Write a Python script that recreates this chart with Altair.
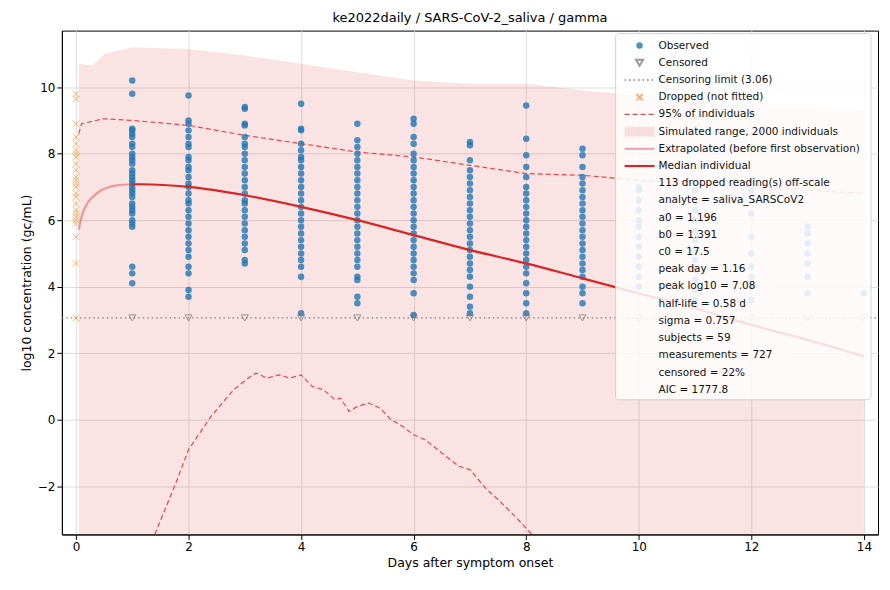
import altair as alt
import pandas as pd

obs = {
 1: [10.2, 9.8, 8.75, 8.7, 8.6, 8.5, 8.3, 8.2, 8.0, 7.9, 7.8, 7.7, 7.5, 7.4, 7.3, 7.2, 7.1, 7.0, 6.9, 6.8, 6.7, 6.5, 6.4, 6.3, 6.2, 6.0, 5.9, 5.8, 4.6, 4.4, 4.1],
 2: [9.75, 9.0, 8.9, 8.7, 8.5, 8.3, 8.2, 7.9, 7.8, 7.6, 7.5, 7.3, 7.1, 7.0, 6.8, 6.6, 6.5, 6.3, 6.1, 5.9, 5.7, 5.5, 5.3, 5.1, 4.9, 4.6, 4.4, 3.9, 3.7],
 3: [9.4, 9.35, 8.9, 8.85, 8.5, 8.3, 8.2, 8.0, 7.8, 7.6, 7.4, 7.2, 7.0, 6.8, 6.6, 6.5, 6.3, 6.1, 5.9, 5.7, 5.5, 5.3, 5.1, 4.8, 4.7],
 4: [9.5, 8.75, 8.7, 8.3, 8.1, 7.9, 7.8, 7.6, 7.4, 7.2, 7.0, 6.8, 6.6, 6.4, 6.2, 6.0, 5.8, 5.6, 5.4, 5.2, 5.0, 4.8, 4.6, 4.3, 3.2],
 5: [8.9, 8.4, 8.2, 8.0, 7.8, 7.6, 7.4, 7.2, 7.0, 6.8, 6.6, 6.4, 6.2, 6.0, 5.8, 5.6, 5.4, 5.2, 5.0, 4.8, 4.6, 4.3, 4.2, 3.7, 3.5],
 6: [9.05, 8.9, 8.5, 8.3, 8.0, 7.8, 7.6, 7.4, 7.2, 7.0, 6.8, 6.6, 6.4, 6.2, 6.0, 5.8, 5.6, 5.4, 5.2, 5.0, 4.8, 4.6, 4.4, 4.2, 3.8, 3.15],
 7: [8.35, 8.25, 7.8, 7.5, 7.3, 7.1, 6.9, 6.7, 6.5, 6.3, 6.1, 5.9, 5.7, 5.5, 5.3, 5.1, 4.9, 4.7, 4.5, 4.3, 4.0, 3.7, 3.4, 3.2],
 8: [9.45, 8.45, 7.95, 7.6, 7.3, 7.0, 6.8, 6.6, 6.4, 6.2, 6.0, 5.8, 5.6, 5.4, 5.2, 5.0, 4.8, 4.6, 4.4, 4.1, 3.8, 3.5, 3.2],
 9: [8.15, 7.95, 7.6, 7.3, 7.1, 6.9, 6.7, 6.5, 6.3, 6.1, 5.9, 5.7, 5.5, 5.3, 5.1, 4.9, 4.7, 4.5, 4.3, 4.0, 3.8, 3.5],
 10: [7.0, 6.9, 6.6, 6.3, 6.0, 5.8, 5.5, 5.2, 4.9, 4.6, 4.3, 4.0],
 11: [6.9, 6.3, 6.0, 5.7, 5.4, 5.1, 4.8, 4.5, 4.2, 3.9, 3.6],
 12: [9.2, 7.2, 6.9, 6.2, 5.5, 5.0, 4.6, 4.3, 4.0, 3.6],
 13: [5.8, 5.6, 5.3, 5.0, 4.7, 4.3, 3.8],
 14: [3.8],
}
censored_days = list(range(1, 15))
censor_limit = 3.06
dropped_vals = [9.8, 9.65, 8.9, 8.5, 8.3, 8.1, 8.0, 7.9, 7.7, 7.5, 7.3, 7.2, 7.1, 7.0, 6.8, 6.7, 6.5, 6.3, 6.2, 6.1, 6.0, 5.9, 5.5, 4.7, 3.06]

band_days = [0.05, 0.3, 0.5, 1.0, 2.0, 3.0, 4.0, 5.0, 6.0, 7.0, 8.0, 9.0, 10.0, 11.0, 12.0, 13.0, 14.0]
band_upper = [10.7, 10.65, 11.0, 11.2, 11.15, 10.95, 10.7, 10.45, 10.2, 10.1, 10.1, 9.9, 9.75, 9.6, 9.5, 9.4, 9.3]
y_bottom = -3.45

p95_days = [0.05, 0.1, 0.5, 1, 2, 3, 4, 5, 6, 7, 8, 9, 10, 11, 12, 13, 14]
p95_upper = [8.6, 8.9, 9.05, 9.0, 8.85, 8.55, 8.3, 8.05, 7.9, 7.65, 7.4, 7.35, 7.2, 7.1, 7.0, 6.9, 6.8]
p5_days = [1.4, 1.8, 2.0, 2.4, 2.8, 3.1, 3.2, 3.4, 3.6, 3.8, 4.0, 4.2, 4.4, 4.6, 4.7, 4.85, 5.0, 5.2, 5.4, 5.6, 5.8, 6.0, 6.2, 6.5, 6.8, 7.0, 7.3, 7.5, 7.8, 8.1]
p5_lower = [-3.45, -1.8, -0.9, 0.1, 0.9, 1.3, 1.4, 1.25, 1.35, 1.25, 1.35, 1.0, 0.9, 0.6, 0.65, 0.25, 0.4, 0.5, 0.35, 0.0, -0.2, -0.45, -0.6, -1.0, -1.4, -1.5, -2.1, -2.4, -2.9, -3.45]

ext_days = [0.05, 0.1, 0.2, 0.3, 0.45, 0.6, 0.8, 1.0]
ext_vals = [5.7, 6.1, 6.5, 6.7, 6.9, 7.0, 7.06, 7.08]
med_days = [1.0, 1.16, 2, 3, 4, 5, 6, 7, 8, 9, 10, 11, 12, 13, 14]
med_vals = [7.08, 7.08, 7.0, 6.75, 6.4, 6.0, 5.55, 5.1, 4.7, 4.25, 3.8, 3.35, 2.85, 2.4, 1.9]

legend_lines = ["Observed", "Censored", "Censoring limit (3.06)", "Dropped (not fitted)",
    "95% of individuals", "Simulated range, 2000 individuals",
    "Extrapolated (before first observation)", "Median individual",
    "113 dropped reading(s) off-scale", "analyte = saliva_SARSCoV2",
    "a0 = 1.196", "b0 = 1.391", "c0 = 17.5", "peak day = 1.16", "peak log10 = 7.08",
    "half-life = 0.58 d", "sigma = 0.757", "subjects = 59", "measurements = 727",
    "censored = 22%", "AIC = 1777.8"]

RED = "#d62728"
X = alt.X("x:Q", scale=alt.Scale(domain=[-0.25, 14.25], nice=False, zero=False),
          axis=alt.Axis(values=list(range(0, 15, 2)), title="Days after symptom onset"))
Y = alt.Y("y:Q", scale=alt.Scale(domain=[y_bottom, 11.7], nice=False, zero=False),
          axis=alt.Axis(values=[-2, 0, 2, 4, 6, 8, 10], title="log10 concentration (gc/mL)"))

obs_df = pd.DataFrame([{"x": d, "y": v} for d, vs in obs.items() for v in vs])
cen_df = pd.DataFrame({"x": censored_days, "y": [censor_limit] * len(censored_days)})
drop_df = pd.DataFrame({"x": [0.0] * len(dropped_vals), "y": dropped_vals})
band_df = pd.DataFrame({"x": band_days, "y": band_upper, "y2": [y_bottom] * len(band_days)})
up_df = pd.DataFrame({"x": p95_days, "y": p95_upper})
lo_df = pd.DataFrame({"x": p5_days, "y": p5_lower})
ext_df = pd.DataFrame({"x": ext_days, "y": ext_vals})
med_df = pd.DataFrame({"x": med_days, "y": med_vals})
lim_df = pd.DataFrame({"x": [-0.25, 14.25], "y": [censor_limit] * 2})

XPATH = "M-1,-1L1,1M1,-1L-1,1"

band = alt.Chart(band_df).mark_area(color=RED, opacity=0.13, clip=True).encode(x=X, y=Y, y2="y2:Q")
lim = alt.Chart(lim_df).mark_line(color="#808080", strokeDash=[1.5, 3], strokeWidth=1.3, clip=True).encode(x=X, y=Y)
up = alt.Chart(up_df).mark_line(color="#e8474a", strokeDash=[5, 3], strokeWidth=1.2, clip=True).encode(x=X, y=Y)
lo = alt.Chart(lo_df).mark_line(color="#e8474a", strokeDash=[5, 3], strokeWidth=1.2, clip=True).encode(x=X, y=Y)
pts = alt.Chart(obs_df).mark_circle(color="#1f77b4", opacity=0.8, size=42, clip=True).encode(x=X, y=Y)
cen = alt.Chart(cen_df).mark_point(shape="triangle-down", color="#707070", filled=False, size=50, strokeWidth=1, clip=True).encode(x=X, y=Y)
drop = alt.Chart(drop_df).mark_point(shape=XPATH, color="#ff7f0e", filled=False, opacity=0.6, size=40, strokeWidth=1, clip=True).encode(x=X, y=Y)
ext = alt.Chart(ext_df).mark_line(color=RED, opacity=0.4, strokeWidth=2.2, interpolate="monotone", clip=True).encode(x=X, y=Y)
med = alt.Chart(med_df).mark_line(color=RED, strokeWidth=2.2, interpolate="monotone", clip=True).encode(x=X, y=Y)

one = pd.DataFrame({"a": [0]})
def L(): return alt.Chart(one)
lx0, lx1, sx, tx, y0, dy = 564, 594, 579, 598, 15, 17.25
def ry(i): return y0 + i * dy
leg = [
  L().mark_rect(fill="white", opacity=0.85, stroke="#cccccc", cornerRadius=3).encode(
      x=alt.value(555), x2=alt.value(811), y=alt.value(3), y2=alt.value(370)),
  L().mark_circle(color="#1f77b4", opacity=0.8, size=42).encode(x=alt.value(sx), y=alt.value(ry(0))),
  L().mark_point(shape="triangle-down", color="#707070", filled=False, size=50).encode(x=alt.value(sx), y=alt.value(ry(1))),
  L().mark_rule(color="#808080", strokeDash=[1.5, 3], strokeWidth=1.3).encode(x=alt.value(lx0), x2=alt.value(lx1), y=alt.value(ry(2))),
  L().mark_point(shape=XPATH, color="#ff7f0e", filled=False, opacity=0.6, size=40).encode(x=alt.value(sx), y=alt.value(ry(3))),
  L().mark_rule(color="#e8474a", strokeDash=[5, 3], strokeWidth=1.2).encode(x=alt.value(lx0), x2=alt.value(lx1), y=alt.value(ry(4))),
  L().mark_rect(color=RED, opacity=0.13).encode(x=alt.value(lx0), x2=alt.value(lx1), y=alt.value(ry(5) - 5), y2=alt.value(ry(5) + 5)),
  L().mark_rule(color=RED, opacity=0.4, strokeWidth=2.2).encode(x=alt.value(lx0), x2=alt.value(lx1), y=alt.value(ry(6))),
  L().mark_rule(color=RED, strokeWidth=2.2).encode(x=alt.value(lx0), x2=alt.value(lx1), y=alt.value(ry(7))),
  L().mark_text(align="left", baseline="middle", fontSize=10.5, font="DejaVu Sans", lineHeight=dy, color="#111").encode(
      x=alt.value(tx), y=alt.value(ry(0)), text=alt.value(legend_lines)),
]

chart = alt.layer(band, lim, up, lo, pts, cen, drop, ext, med, *leg).properties(
    width=818, height=505, autosize=alt.AutoSizeParams(type="none"),
    padding={"left": 54, "top": 22, "right": 4, "bottom": 40},
    title=alt.Title("ke2022daily / SARS-CoV-2_saliva / gamma", fontSize=13, fontWeight="normal", font="DejaVu Sans", offset=6),
).configure_axis(
    grid=True, gridColor="#dddddd", domainColor="#000", tickColor="#000",
    labelFont="DejaVu Sans", titleFont="DejaVu Sans", labelFontSize=12, titleFontSize=12.5,
    titleFontWeight="normal", labelColor="#000", titleColor="#000",
).configure_view(stroke="#000", strokeWidth=1)

chart.save("out.html", embed_options={"renderer": "svg", "actions": False})
